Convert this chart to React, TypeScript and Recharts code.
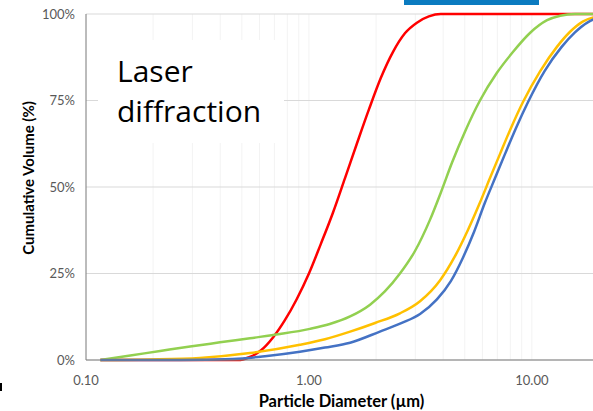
import React from "react";
import { LineChart, Line, XAxis, YAxis, CartesianGrid } from "recharts";

// ---- data (particle diameter in µm, cumulative volume in %) ----
const redSize = [0.116, 0.48, 0.54, 0.61, 0.69, 0.78, 0.88, 1.0, 1.13, 1.28, 1.45, 1.64, 1.86, 2.1, 2.38, 2.7, 3.05, 3.45, 3.9, 20];
const redVol = [0, 0, 0.8, 2.8, 6.5, 11.5, 17.5, 25, 33.5, 42.5, 52.5, 62.5, 72.5, 81.5, 89, 94.5, 97.5, 99.3, 100, 100];

const greenSize = [0.116, 0.158, 0.215, 0.293, 0.399, 0.544, 0.741, 1.01, 1.24, 1.53, 1.88, 2.19, 2.56, 2.99, 3.49, 3.91, 4.38, 5.01, 5.85, 6.97, 8.22, 9.8, 11.7, 13.4, 15.6, 20];
const greenVol = [0, 1.3, 2.6, 3.9, 5.1, 6.3, 7.5, 9.0, 10.4, 12.6, 16.0, 19.8, 25.0, 31.5, 40.5, 48.5, 57, 66, 75, 83, 89, 94.5, 98.2, 99.5, 100, 100];

const orangeSize = [0.116, 0.194, 0.324, 0.544, 0.911, 1.18, 1.53, 1.98, 2.56, 3.15, 3.87, 4.52, 5.16, 5.85, 6.48, 7.19, 8.05, 9.11, 10.9, 12.95, 14.8, 16.9, 20];
const orangeVol = [0, 0.15, 0.6, 2.0, 4.4, 6.0, 8.2, 10.7, 13.5, 17.0, 23.0, 30.0, 37.5, 45.5, 52.5, 59.5, 67.0, 74.5, 83.5, 90.5, 94.8, 97.8, 99.4];

const blueSize = [0.116, 0.264, 0.456, 0.635, 0.911, 1.18, 1.53, 2.08, 2.61, 3.15, 3.75, 4.33, 4.9, 5.5, 6.16, 6.83, 7.57, 8.48, 9.6, 11.4, 13.6, 15.6, 17.8, 20];
const blueVol = [0, 0, 0.3, 1.1, 2.4, 3.6, 5.0, 8.2, 10.7, 13.3, 17.5, 22.8, 29.5, 37.0, 45.5, 52.5, 59.5, 67.0, 74.5, 83.5, 90.5, 94.7, 97.6, 99.0];

const xGridTicks = [0.1, 0.2, 0.3, 0.4, 0.5, 0.6, 0.7, 0.8, 0.9, 1, 2, 3, 4, 5, 6, 7, 8, 9, 10, 20];
const xMajorTicks = [0.1, 1, 10];
const xMajorLabels = ["0.10", "1.00", "10.00"];
const yTicks = [0, 25, 50, 75, 100];

const build = (xs: number[], ys: number[]) => xs.map((d, i) => ({ d, v: ys[i] }));

const series = [
  { name: "red", color: "#FF0000", data: build(redSize, redVol) },
  { name: "green", color: "#92D050", data: build(greenSize, greenVol) },
  { name: "orange", color: "#FFC000", data: build(orangeSize, orangeVol) },
  { name: "blue", color: "#4472C4", data: build(blueSize, blueVol) },
];

const FONT = "Lato, 'Open Sans', sans-serif";

const xFmt = (v: number) => {
  const i = xMajorTicks.findIndex((t) => Math.abs(t - v) < 1e-9);
  return i >= 0 ? xMajorLabels[i] : "";
};

export default function App() {
  return (
    <div
      style={{
        position: "fixed",
        left: 0,
        top: 0,
        width: 593,
        height: 411,
        overflow: "hidden",
        background: "#fff",
        fontFamily: FONT,
      }}
    >
      <LineChart width={600} height={411} margin={{ top: 14, right: 1, bottom: 0, left: 0 }}>
        <CartesianGrid horizontal={false} stroke="#F3F3F3" strokeWidth={1} />
        <CartesianGrid vertical={false} stroke="#D9D9D9" strokeWidth={1} />
        <XAxis
          type="number"
          dataKey="d"
          scale="log"
          domain={[0.1, 20]}
          allowDataOverflow
          ticks={xGridTicks}
          interval={0}
          tickFormatter={xFmt}
          height={51}
          tickLine={false}
          tickSize={0}
          tickMargin={16}
          axisLine={{ stroke: "#7F7F7F", strokeWidth: 1 }}
          tick={{ fill: "#595959", fontSize: 13, fontFamily: FONT }}
          label={{
            content: (p: any) => {
              const vb = p.viewBox || { x: 86, width: 513, y: 360 };
              return (
                <text
                  x={vb.x + vb.width / 2 - 1}
                  y={407}
                  textAnchor="middle"
                  fontFamily={FONT}
                  fontWeight={700}
                  fontSize={16.5}
                  fill="#000"
                >
                  Particle Diameter (µm)
                </text>
              );
            },
          }}
        />
        <YAxis
          type="number"
          domain={[0, 100]}
          ticks={yTicks}
          interval={0}
          width={86}
          tickLine={false}
          tickSize={0}
          tickMargin={11}
          tickFormatter={(v: number) => `${v}%`}
          axisLine={{ stroke: "#7F7F7F", strokeWidth: 1 }}
          tick={{ fill: "#595959", fontSize: 13, fontFamily: FONT }}
          label={{
            content: (p: any) => {
              const vb = p.viewBox || { y: 14, height: 346 };
              const cy = vb.y + vb.height / 2 - 9;
              return (
                <text
                  x={28}
                  y={cy}
                  transform={`rotate(-90, 28, ${cy})`}
                  textAnchor="middle"
                  dominantBaseline="central"
                  fontFamily={FONT}
                  fontWeight={700}
                  fontSize={15}
                  fill="#000"
                >
                  Cumulative Volume (%)
                </text>
              );
            },
          }}
        />
        {series.map((s) => (
          <Line
            key={s.name}
            data={s.data}
            dataKey="v"
            type="monotone"
            stroke={s.color}
            strokeWidth={2.5}
            dot={false}
            activeDot={false}
            isAnimationActive={false}
          />
        ))}
      </LineChart>
      <div
        style={{
          position: "absolute",
          left: 98,
          top: 40,
          width: 186,
          height: 103,
          background: "#fff",
        }}
      />
      <div
        style={{
          position: "absolute",
          left: 117,
          top: 51,
          fontFamily: "'Open Sans', sans-serif",
          fontSize: 30,
          lineHeight: "40px",
          color: "#000",
          whiteSpace: "nowrap",
        }}
      >
        Laser
        <br />
        diffraction
      </div>
      <div style={{ position: "absolute", left: 404, top: 0, width: 135, height: 5, background: "#0B7BC0" }} />
      <div style={{ position: "absolute", left: 0, top: 383, width: 2, height: 8, background: "#000" }} />
    </div>
  );
}
